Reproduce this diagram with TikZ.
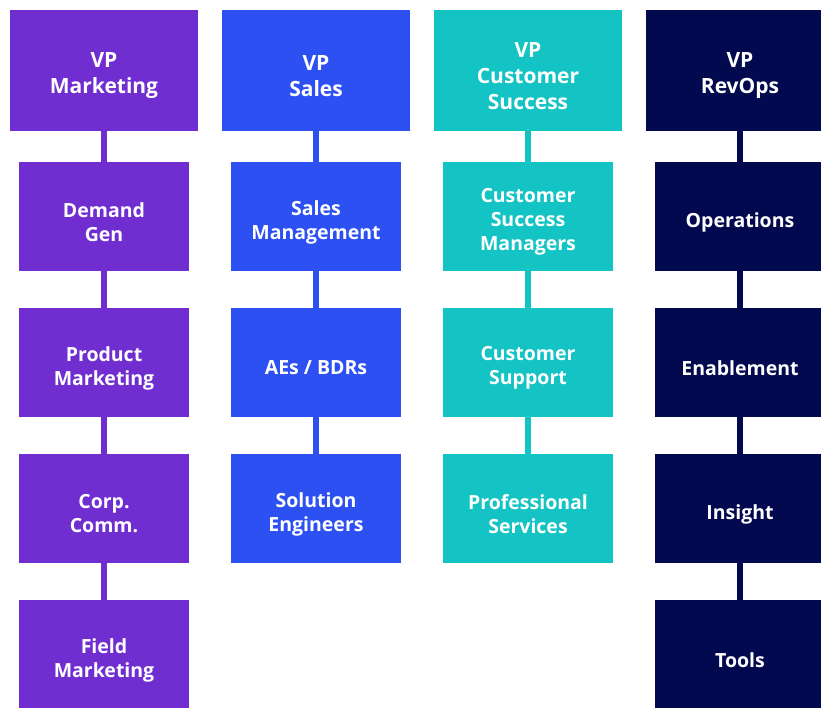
\documentclass[tikz,border=0pt]{standalone}
\usepackage{fontspec}
\setmainfont{Open Sans}
\definecolor{cmk}{HTML}{702ED0}
\definecolor{csl}{HTML}{2D50F2}
\definecolor{ccs}{HTML}{14C3C3}
\definecolor{cro}{HTML}{03094F}
\tikzset{
  vpbox/.style={rectangle, inner sep=0pt, minimum width=188pt, minimum height=121pt},
  subbox/.style={rectangle, inner sep=0pt, minimum width=170pt, minimum height=109pt},
  vptext/.style={label={[text=white, align=center, inner sep=0pt, yshift=-5.5pt, font=\bfseries\fontsize{21}{26}\selectfont]center:#1}},
  subtext/.style={label={[text=white, align=center, inner sep=0pt, yshift=-5.5pt, font=\bfseries\fontsize{19.5}{24}\selectfont]center:#1}},
  link/.style={line width=6pt}
}
\begin{document}
\begin{tikzpicture}[x=1pt,y=-1pt]
\useasboundingbox (0,0) rectangle (821,707);
% Marketing
\node[vpbox, fill=cmk, vptext={VP\\Marketing}] (m0) at (104,70.5) {};
\node[subbox, fill=cmk, subtext={Demand\\Gen}] (m1) at (104,216.5) {};
\node[subbox, fill=cmk, subtext={Product\\Marketing}] (m2) at (104,362.5) {};
\node[subbox, fill=cmk, subtext={Corp.\\Comm.}] (m3) at (104,508.5) {};
\node[subbox, fill=cmk, subtext={Field\\Marketing}] (m4) at (104,654.5) {};
\draw[link, cmk] (m0.south) -- (m1.north) (m1.south) -- (m2.north) (m2.south) -- (m3.north) (m3.south) -- (m4.north);
% Sales
\node[vpbox, fill=csl, vptext={VP\\Sales}] (s0) at (316,70.5) {};
\node[subbox, fill=csl, subtext={Sales\\Management}] (s1) at (316,216.5) {};
\node[subbox, fill=csl, subtext={AEs / BDRs}] (s2) at (316,362.5) {};
\node[subbox, fill=csl, subtext={Solution\\Engineers}] (s3) at (316,508.5) {};
\draw[link, csl] (s0.south) -- (s1.north) (s1.south) -- (s2.north) (s2.south) -- (s3.north);
% Customer Success
\node[vpbox, fill=ccs, vptext={VP\\Customer\\Success}] (c0) at (528,70.5) {};
\node[subbox, fill=ccs, subtext={Customer\\Success\\Managers}] (c1) at (528,216.5) {};
\node[subbox, fill=ccs, subtext={Customer\\Support}] (c2) at (528,362.5) {};
\node[subbox, fill=ccs, subtext={Professional\\Services}] (c3) at (528,508.5) {};
\draw[link, ccs] (c0.south) -- (c1.north) (c1.south) -- (c2.north) (c2.south) -- (c3.north);
% RevOps
\node[vpbox, fill=cro, vptext={VP\\RevOps}] (r0) at (740,70.5) {};
\node[subbox, fill=cro, subtext={Operations}] (r1) at (740,216.5) {};
\node[subbox, fill=cro, subtext={Enablement}] (r2) at (740,362.5) {};
\node[subbox, fill=cro, subtext={Insight}] (r3) at (740,508.5) {};
\node[subbox, fill=cro, subtext={Tools}] (r4) at (740,654.5) {};
\draw[link, cro] (r0.south) -- (r1.north) (r1.south) -- (r2.north) (r2.south) -- (r3.north) (r3.south) -- (r4.north);
\end{tikzpicture}
\end{document}
